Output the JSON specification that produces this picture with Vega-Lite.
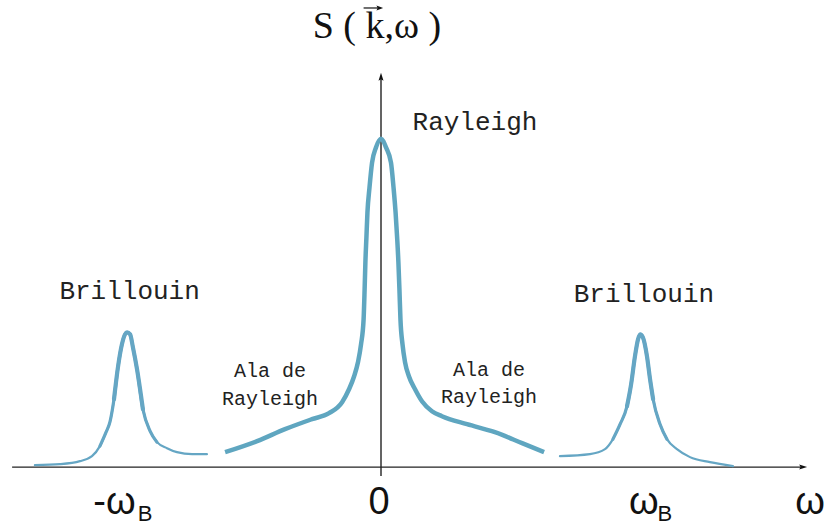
{
  "$schema": "https://vega.github.io/schema/vega-lite/v6.json",
  "width": 828,
  "height": 525,
  "padding": 0,
  "autosize": {"type": "fit", "contains": "padding"},
  "background": "white",
  "config": {"view": {"stroke": null}},
  "datasets": {
    "curves": [
      {"series": "Brillouin -ωB", "omega": -1.352, "S": 0.02},
      {"series": "Brillouin -ωB", "omega": -1.254, "S": 0.03},
      {"series": "Brillouin -ωB", "omega": -1.176, "S": 0.06},
      {"series": "Brillouin -ωB", "omega": -1.129, "S": 0.11},
      {"series": "Brillouin -ωB", "omega": -1.098, "S": 0.21},
      {"series": "Brillouin -ωB", "omega": -1.074, "S": 0.35},
      {"series": "Brillouin -ωB", "omega": -1.059, "S": 0.45},
      {"series": "Brillouin -ωB", "omega": -1.043, "S": 0.68},
      {"series": "Brillouin -ωB", "omega": -1.027, "S": 1.01},
      {"series": "Brillouin -ωB", "omega": -1.012, "S": 1.23},
      {"series": "Brillouin -ωB", "omega": -1.000, "S": 1.33},
      {"series": "Brillouin -ωB", "omega": -0.992, "S": 1.35},
      {"series": "Brillouin -ωB", "omega": -0.980, "S": 1.33},
      {"series": "Brillouin -ωB", "omega": -0.969, "S": 1.20},
      {"series": "Brillouin -ωB", "omega": -0.953, "S": 0.98},
      {"series": "Brillouin -ωB", "omega": -0.930, "S": 0.58},
      {"series": "Brillouin -ωB", "omega": -0.902, "S": 0.36},
      {"series": "Brillouin -ωB", "omega": -0.875, "S": 0.25},
      {"series": "Brillouin -ωB", "omega": -0.836, "S": 0.19},
      {"series": "Brillouin -ωB", "omega": -0.797, "S": 0.15},
      {"series": "Brillouin -ωB", "omega": -0.738, "S": 0.13},
      {"series": "Brillouin -ωB", "omega": -0.680, "S": 0.13},
      {"series": "Rayleigh", "omega": -0.609, "S": 0.15},
      {"series": "Rayleigh", "omega": -0.484, "S": 0.26},
      {"series": "Rayleigh", "omega": -0.375, "S": 0.38},
      {"series": "Rayleigh", "omega": -0.270, "S": 0.48},
      {"series": "Rayleigh", "omega": -0.203, "S": 0.54},
      {"series": "Rayleigh", "omega": -0.152, "S": 0.65},
      {"series": "Rayleigh", "omega": -0.125, "S": 0.78},
      {"series": "Rayleigh", "omega": -0.105, "S": 0.91},
      {"series": "Rayleigh", "omega": -0.090, "S": 1.05},
      {"series": "Rayleigh", "omega": -0.078, "S": 1.23},
      {"series": "Rayleigh", "omega": -0.068, "S": 1.48},
      {"series": "Rayleigh", "omega": -0.064, "S": 1.78},
      {"series": "Rayleigh", "omega": -0.061, "S": 2.05},
      {"series": "Rayleigh", "omega": -0.057, "S": 2.30},
      {"series": "Rayleigh", "omega": -0.053, "S": 2.55},
      {"series": "Rayleigh", "omega": -0.045, "S": 2.80},
      {"series": "Rayleigh", "omega": -0.035, "S": 3.05},
      {"series": "Rayleigh", "omega": -0.020, "S": 3.20},
      {"series": "Rayleigh", "omega": 0.000, "S": 3.29},
      {"series": "Rayleigh", "omega": 0.020, "S": 3.20},
      {"series": "Rayleigh", "omega": 0.039, "S": 3.05},
      {"series": "Rayleigh", "omega": 0.049, "S": 2.80},
      {"series": "Rayleigh", "omega": 0.057, "S": 2.55},
      {"series": "Rayleigh", "omega": 0.063, "S": 2.30},
      {"series": "Rayleigh", "omega": 0.068, "S": 2.05},
      {"series": "Rayleigh", "omega": 0.072, "S": 1.78},
      {"series": "Rayleigh", "omega": 0.076, "S": 1.48},
      {"series": "Rayleigh", "omega": 0.084, "S": 1.23},
      {"series": "Rayleigh", "omega": 0.094, "S": 1.05},
      {"series": "Rayleigh", "omega": 0.109, "S": 0.91},
      {"series": "Rayleigh", "omega": 0.133, "S": 0.78},
      {"series": "Rayleigh", "omega": 0.160, "S": 0.66},
      {"series": "Rayleigh", "omega": 0.199, "S": 0.56},
      {"series": "Rayleigh", "omega": 0.238, "S": 0.51},
      {"series": "Rayleigh", "omega": 0.336, "S": 0.43},
      {"series": "Rayleigh", "omega": 0.445, "S": 0.35},
      {"series": "Rayleigh", "omega": 0.551, "S": 0.24},
      {"series": "Rayleigh", "omega": 0.637, "S": 0.15},
      {"series": "Brillouin +ωB", "omega": 0.699, "S": 0.11},
      {"series": "Brillouin +ωB", "omega": 0.816, "S": 0.13},
      {"series": "Brillouin +ωB", "omega": 0.875, "S": 0.18},
      {"series": "Brillouin +ωB", "omega": 0.906, "S": 0.28},
      {"series": "Brillouin +ωB", "omega": 0.934, "S": 0.43},
      {"series": "Brillouin +ωB", "omega": 0.961, "S": 0.61},
      {"series": "Brillouin +ωB", "omega": 0.977, "S": 0.83},
      {"series": "Brillouin +ωB", "omega": 0.992, "S": 1.11},
      {"series": "Brillouin +ωB", "omega": 1.004, "S": 1.28},
      {"series": "Brillouin +ωB", "omega": 1.012, "S": 1.33},
      {"series": "Brillouin +ωB", "omega": 1.023, "S": 1.30},
      {"series": "Brillouin +ωB", "omega": 1.039, "S": 1.11},
      {"series": "Brillouin +ωB", "omega": 1.051, "S": 0.88},
      {"series": "Brillouin +ωB", "omega": 1.063, "S": 0.68},
      {"series": "Brillouin +ωB", "omega": 1.090, "S": 0.43},
      {"series": "Brillouin +ωB", "omega": 1.117, "S": 0.28},
      {"series": "Brillouin +ωB", "omega": 1.156, "S": 0.18},
      {"series": "Brillouin +ωB", "omega": 1.207, "S": 0.10},
      {"series": "Brillouin +ωB", "omega": 1.285, "S": 0.05},
      {"series": "Brillouin +ωB", "omega": 1.375, "S": 0.01}
    ],
    "axes": [
      {"axis": "omega", "omega": -1.441, "S": 0, "omega2": 1.645, "S2": 0},
      {"axis": "S", "omega": 0, "S": -0.09, "omega2": 0, "S2": 3.9}
    ],
    "vectorArrow": [
      {"omega": -0.068, "S": 4.60, "omega2": -0.008, "S2": 4.60}
    ],
    "ticks": [
      {"omega": -1}, {"omega": 1}
    ],
    "labels": [
      {"kind": "title", "omega": -0.016, "S": 4.30, "text": "S ( k,ω )"},
      {"kind": "peak", "omega": 0.367, "S": 3.38, "text": "Rayleigh"},
      {"kind": "peak", "omega": -0.982, "S": 1.68, "text": "Brillouin"},
      {"kind": "peak", "omega": 1.027, "S": 1.65, "text": "Brillouin"},
      {"kind": "wing", "omega": -0.434, "S": 0.90, "text": "Ala de"},
      {"kind": "wing", "omega": -0.434, "S": 0.62, "text": "Rayleigh"},
      {"kind": "wing", "omega": 0.422, "S": 0.91, "text": "Ala de"},
      {"kind": "wing", "omega": 0.422, "S": 0.64, "text": "Rayleigh"},
      {"kind": "axis", "omega": -1.041, "S": -0.47, "text": "-ω"},
      {"kind": "sub", "omega": -0.922, "S": -0.54, "text": "B"},
      {"kind": "axis", "omega": -0.008, "S": -0.47, "text": "0"},
      {"kind": "axis", "omega": 1.027, "S": -0.47, "text": "ω"},
      {"kind": "sub", "omega": 1.109, "S": -0.54, "text": "B"},
      {"kind": "axis", "omega": 1.676, "S": -0.47, "text": "ω"}
    ]
  },
  "encoding": {
    "x": {"field": "omega", "type": "quantitative", "axis": null, "scale": {"domain": [-1.4883, 1.7461], "nice": false, "zero": false}},
    "y": {"field": "S", "type": "quantitative", "axis": null, "scale": {"domain": [-0.57, 4.68], "nice": false, "zero": false}}
  },
  "layer": [
    {
      "data": {"name": "axes"},
      "mark": {"type": "rule", "color": "#222222", "strokeWidth": 1.4},
      "encoding": {"x2": {"field": "omega2"}, "y2": {"field": "S2"}}
    },
    {
      "data": {"name": "ticks"},
      "mark": {"type": "rule", "color": "#222222", "strokeWidth": 1.4},
      "encoding": {"y": {"datum": 0}, "y2": {"datum": -0.09}}
    },
    {
      "data": {"name": "axes"},
      "transform": [{"filter": "datum.axis === 'omega'"}],
      "mark": {"type": "point", "shape": "M1,0L-0.6,0.5L-0.3,0L-0.6,-0.5Z", "filled": true, "size": 100, "color": "#111111", "opacity": 1},
      "encoding": {"x": {"field": "omega2", "type": "quantitative"}, "y": {"field": "S2", "type": "quantitative"}}
    },
    {
      "data": {"name": "axes"},
      "transform": [{"filter": "datum.axis === 'S'"}],
      "mark": {"type": "point", "shape": "M0,-1L0.5,0.6L0,0.3L-0.5,0.6Z", "filled": true, "size": 100, "color": "#111111", "opacity": 1},
      "encoding": {"x": {"field": "omega2", "type": "quantitative"}, "y": {"field": "S2", "type": "quantitative"}}
    },
    {
      "data": {"name": "curves"},
      "transform": [{"filter": "datum.series !== 'Rayleigh'"}],
      "mark": {"type": "line", "interpolate": "monotone", "color": "#65a6c4", "strokeWidth": 2.2, "strokeCap": "round"},
      "encoding": {"detail": {"field": "series"}}
    },
    {
      "data": {"name": "curves"},
      "transform": [{"filter": "datum.series !== 'Rayleigh' && datum.S >= 0.2"}],
      "mark": {"type": "line", "interpolate": "monotone", "color": "#65a6c4", "strokeWidth": 3.2, "strokeCap": "round"},
      "encoding": {"detail": {"field": "series"}}
    },
    {
      "data": {"name": "curves"},
      "transform": [{"filter": "datum.series !== 'Rayleigh' && datum.S >= 0.55"}],
      "mark": {"type": "line", "interpolate": "monotone", "color": "#65a6c4", "strokeWidth": 4.2, "strokeCap": "round"},
      "encoding": {"detail": {"field": "series"}}
    },
    {
      "data": {"name": "curves"},
      "transform": [{"filter": "datum.series === 'Rayleigh'"}],
      "mark": {"type": "line", "interpolate": "monotone", "color": "#5fa6c0", "strokeWidth": 4.5, "strokeCap": "butt"},
      "encoding": {}
    },
    {
      "data": {"name": "vectorArrow"},
      "mark": {"type": "rule", "color": "#111111", "strokeWidth": 1.2},
      "encoding": {"x2": {"field": "omega2"}, "y2": {"field": "S2"}}
    },
    {
      "data": {"name": "vectorArrow"},
      "mark": {"type": "point", "shape": "M1,0L-0.6,0.6L-0.3,0L-0.6,-0.6Z", "filled": true, "size": 70, "color": "#111111", "opacity": 1},
      "encoding": {"x": {"field": "omega2", "type": "quantitative"}, "y": {"field": "S2", "type": "quantitative"}}
    },
    {
      "data": {"name": "labels"},
      "transform": [{"filter": "datum.kind === 'title'"}],
      "mark": {"type": "text", "font": "Liberation Serif", "fontSize": 38, "color": "#111111", "align": "center", "baseline": "alphabetic"},
      "encoding": {"text": {"field": "text"}}
    },
    {
      "data": {"name": "labels"},
      "transform": [{"filter": "datum.kind === 'peak'"}],
      "mark": {"type": "text", "font": "Liberation Mono", "fontSize": 26, "color": "#222222", "align": "center", "baseline": "alphabetic"},
      "encoding": {"text": {"field": "text"}}
    },
    {
      "data": {"name": "labels"},
      "transform": [{"filter": "datum.kind === 'wing'"}],
      "mark": {"type": "text", "font": "Liberation Mono", "fontSize": 20, "color": "#222222", "align": "center", "baseline": "alphabetic"},
      "encoding": {"text": {"field": "text"}}
    },
    {
      "data": {"name": "labels"},
      "transform": [{"filter": "datum.kind === 'axis'"}],
      "mark": {"type": "text", "font": "Liberation Sans", "fontSize": 38, "color": "#111111", "align": "center", "baseline": "alphabetic"},
      "encoding": {"text": {"field": "text"}}
    },
    {
      "data": {"name": "labels"},
      "transform": [{"filter": "datum.kind === 'sub'"}],
      "mark": {"type": "text", "font": "Liberation Sans", "fontSize": 22, "color": "#111111", "align": "center", "baseline": "alphabetic"},
      "encoding": {"text": {"field": "text"}}
    }
  ]
}
